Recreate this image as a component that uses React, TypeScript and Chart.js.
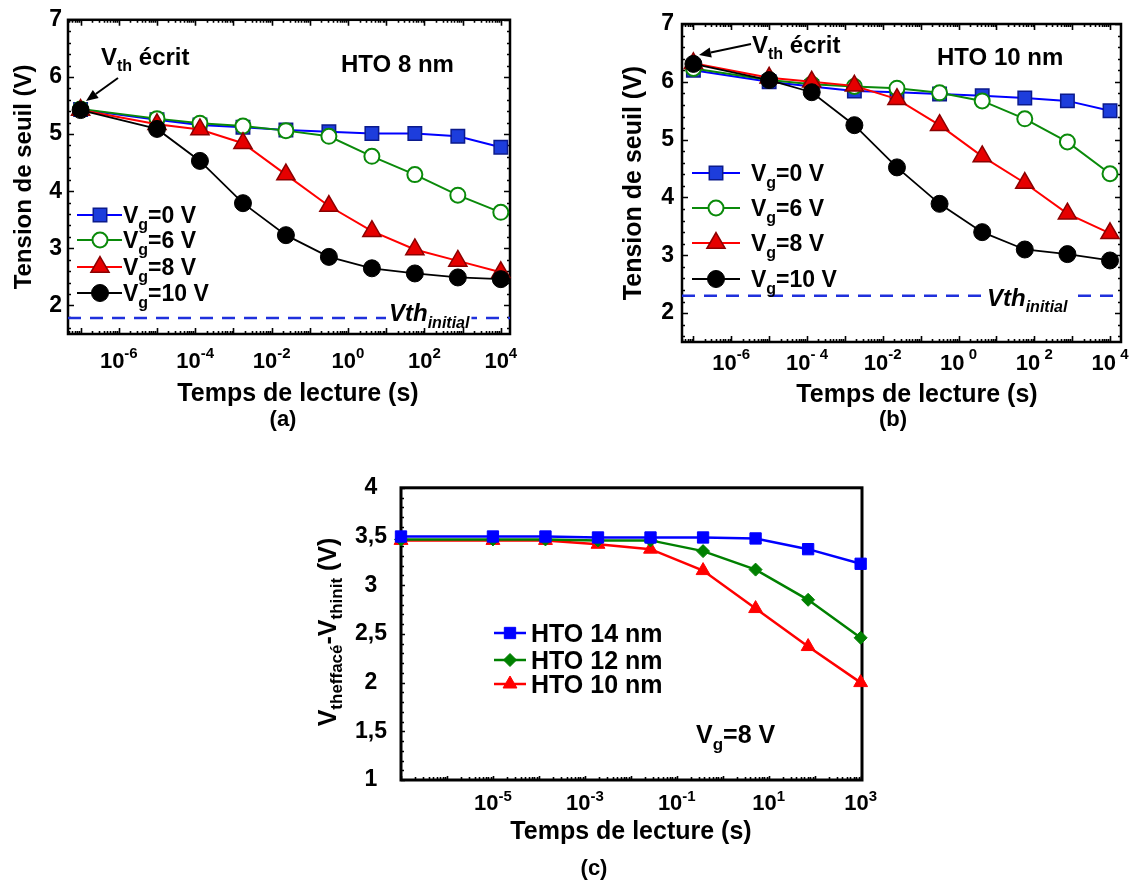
import React, { useEffect, useRef } from "react";
import { Chart, registerables } from "chart.js";
import { drawPoint } from "chart.js/helpers";

Chart.register(...registerables);

const FONT = "'Liberation Sans', Arial, Helvetica, sans-serif";

// ---------------- Data: panels (a) and (b) ----------------
const readTimesAB = [1e-7, 1e-5, 1.33e-4, 1.78e-3, 2.37e-2, 0.316, 4.22, 56.2, 750, 1e4];

const vthA_Vg0 = [5.43, 5.25, 5.16, 5.12, 5.07, 5.04, 5.01, 5.01, 4.96, 4.77];
const vthA_Vg6 = [5.44, 5.27, 5.19, 5.14, 5.06, 4.96, 4.61, 4.29, 3.93, 3.63];
const vthA_Vg8 = [5.42, 5.17, 5.08, 4.84, 4.29, 3.74, 3.3, 2.98, 2.78, 2.58];
const vthA_Vg10 = [5.42, 5.09, 4.53, 3.79, 3.23, 2.85, 2.65, 2.56, 2.49, 2.46];
const vthInitialA = 1.78;

const vthB_Vg0 = [6.2, 6.0, 5.92, 5.84, 5.82, 5.79, 5.76, 5.72, 5.67, 5.5];
const vthB_Vg6 = [6.23, 6.03, 5.96, 5.92, 5.89, 5.81, 5.67, 5.36, 4.96, 4.41];
const vthB_Vg8 = [6.32, 6.07, 6.0, 5.93, 5.7, 5.25, 4.71, 4.25, 3.72, 3.38];
const vthB_Vg10 = [6.31, 6.03, 5.82, 5.25, 4.52, 3.89, 3.4, 3.1, 3.02, 2.91];
const vthInitialB = 2.3;

// ---------------- Data: panel (c) ----------------
const readTimesC = [1e-7, 1e-5, 1.39e-4, 1.93e-3, 2.68e-2, 0.373, 5.18, 72, 1e3];
const deltaC_HTO14 = [3.5, 3.5, 3.5, 3.49, 3.49, 3.49, 3.48, 3.37, 3.22];
const deltaC_HTO12 = [3.47, 3.47, 3.47, 3.46, 3.46, 3.35, 3.16, 2.85, 2.46];
const deltaC_HTO10 = [3.46, 3.46, 3.46, 3.42, 3.37, 3.15, 2.76, 2.37, 2.0];

// ---------------- Ticks / labels ----------------
const xTickValsAB = [1e-6, 1e-4, 1e-2, 1, 1e2, 1e4];
const xTickExpA = ["-6", "-4", "-2", "0", "2", "4"];
const xTickExpB = ["-6", "- 4", "-2", " 0", " 2", " 4"];
const xTickValsC = [1e-5, 1e-3, 1e-1, 10, 1e3];
const xTickExpC = ["-5", "-3", "-1", "1", "3"];
const yTickValsAB = [2, 3, 4, 5, 6, 7];
const yTickLabelsAB = ["2", "3", "4", "5", "6", "7"];
const yTickValsC = [1, 1.5, 2, 2.5, 3, 3.5, 4];
const yTickLabelsC = ["1", "1,5", "2", "2,5", "3", "3,5", "4"];

const legendVg = ["=0 V", "=6 V", "=8 V", "=10 V"];
const legendC = ["HTO 14 nm", "HTO 12 nm", "HTO 10 nm"];
const xTitleText = "Temps de lecture (s)";
const yTitleAB = "Tension de seuil (V)";

// ---------------- helpers ----------------
type Seg = { t: string; size: number; dy?: number; italic?: boolean };
const fontOf = (s: Seg) => `${s.italic ? "italic " : ""}bold ${s.size}px ${FONT}`;

function drawRich(ctx: CanvasRenderingContext2D, segs: Seg[], x: number, y: number, align: "left" | "center" = "left", color = "#000") {
  ctx.save();
  ctx.fillStyle = color;
  ctx.textAlign = "left";
  ctx.textBaseline = "alphabetic";
  let total = 0;
  for (const s of segs) {
    ctx.font = fontOf(s);
    total += ctx.measureText(s.t).width;
  }
  let cx = align === "center" ? x - total / 2 : x;
  for (const s of segs) {
    ctx.font = fontOf(s);
    ctx.fillText(s.t, cx, y + (s.dy || 0));
    cx += ctx.measureText(s.t).width;
  }
  ctx.restore();
  return total;
}

function drawArrow(ctx: CanvasRenderingContext2D, x1: number, y1: number, x2: number, y2: number) {
  const head = 12, half = 5;
  ctx.save();
  ctx.strokeStyle = "#000";
  ctx.fillStyle = "#000";
  ctx.lineWidth = 2;
  const ang = Math.atan2(y2 - y1, x2 - x1);
  const bx = x2 - head * Math.cos(ang), by = y2 - head * Math.sin(ang);
  ctx.beginPath();
  ctx.moveTo(x1, y1);
  ctx.lineTo(bx, by);
  ctx.stroke();
  ctx.beginPath();
  ctx.moveTo(x2, y2);
  ctx.lineTo(bx + half * Math.sin(ang), by - half * Math.cos(ang));
  ctx.lineTo(bx - half * Math.sin(ang), by + half * Math.cos(ang));
  ctx.closePath();
  ctx.fill();
  ctx.restore();
}

function drawLegendItem(ctx: CanvasRenderingContext2D, ds: any, x0: number, x1: number, xm: number, y: number, lw: number) {
  ctx.save();
  ctx.strokeStyle = ds.borderColor;
  ctx.lineWidth = lw;
  ctx.beginPath();
  ctx.moveTo(x0, y);
  ctx.lineTo(x1, y);
  ctx.stroke();
  ctx.fillStyle = ds.pointBackgroundColor;
  ctx.strokeStyle = ds.pointBorderColor;
  ctx.lineWidth = ds.pointBorderWidth;
  drawPoint(ctx, { pointStyle: ds.pointStyle, radius: ds.pointRadius, rotation: 0, borderWidth: ds.pointBorderWidth } as any, xm, y);
  ctx.restore();
}

function drawVthInitial(chart: any, value: number, x: number, baseOff: number, subOff: number) {
  const ctx = chart.ctx as CanvasRenderingContext2D;
  const y = chart.scales.y.getPixelForValue(value);
  ctx.save();
  ctx.font = fontOf({ t: "", size: 24, italic: true });
  const w1 = ctx.measureText("Vth").width;
  ctx.font = fontOf({ t: "", size: 16, italic: true });
  const w2 = ctx.measureText("initial").width;
  ctx.fillStyle = "#fff";
  ctx.fillRect(x - 3, y - 3, w1 + w2 + 5, 6);
  ctx.restore();
  drawRich(ctx, [
    { t: "Vth", size: 24, italic: true, dy: baseOff },
    { t: "initial", size: 16, italic: true, dy: baseOff + subOff },
  ], x, y);
}

// ---------------- panel spec ----------------
interface PanelSpec {
  width: number;
  height: number;
  padding: { left: number; right: number; top: number; bottom: number };
  xMin: number; xMax: number; yMin: number; yMax: number;
  xTickValues: number[]; xTickExps: string[];
  xLabelBaseline: number; expRaise: number;
  yTickValues: number[]; yTickLabels: string[];
  yCrossAlign: "near" | "center";
  xTitleX: number; xTitleBaseline: number;
  yTitle: string | null;
  yAxisWidth: number; xAxisHeight: number;
  yTickPad: number; yTitlePad: number;
  tickSize: number; titleSize: number; yTitleSize: number;
  yMinor: number; yMajor: number; allSides: boolean;
  frameWidth: number; majorLen: number; minorLen: number;
  datasets: any[];
  decorate: (chart: any) => void;
}

function drawFrame(chart: any, s: PanelSpec) {
  const ctx = chart.ctx as CanvasRenderingContext2D;
  const a = chart.chartArea;
  const xs = chart.scales.x, ys = chart.scales.y;
  ctx.save();
  ctx.strokeStyle = "#000";
  ctx.lineWidth = 1.6;
  ctx.beginPath();
  const e0 = Math.floor(Math.log10(xs.min)), e1 = Math.ceil(Math.log10(xs.max));
  for (let e = e0; e <= e1; e++) {
    for (let m = 1; m < 10; m++) {
      const v = m * Math.pow(10, e);
      if (v < xs.min || v > xs.max) continue;
      const px = Math.round(xs.getPixelForValue(v)) + 0.5;
      const len = m === 1 ? s.majorLen : s.minorLen;
      ctx.moveTo(px, a.bottom);
      ctx.lineTo(px, a.bottom - len);
      if (s.allSides) {
        ctx.moveTo(px, a.top);
        ctx.lineTo(px, a.top + len);
      }
    }
  }
  const k0 = Math.ceil(s.yMin / s.yMinor - 1e-9), k1 = Math.floor(s.yMax / s.yMinor + 1e-9);
  for (let k = k0; k <= k1; k++) {
    const v = k * s.yMinor;
    const r = v / s.yMajor;
    const major = Math.abs(r - Math.round(r)) < 1e-6;
    const len = major ? s.majorLen : s.minorLen;
    const py = Math.round(ys.getPixelForValue(v)) + 0.5;
    ctx.moveTo(a.left, py);
    ctx.lineTo(a.left + len, py);
    if (s.allSides) {
      ctx.moveTo(a.right, py);
      ctx.lineTo(a.right - len, py);
    }
  }
  ctx.stroke();
  ctx.lineWidth = s.frameWidth;
  ctx.strokeRect(a.left, a.top, a.right - a.left, a.bottom - a.top);
  ctx.restore();
}

// x tick labels "10" with a raised exponent, and the x-axis title
function drawXAxisText(chart: any, s: PanelSpec) {
  const ctx = chart.ctx as CanvasRenderingContext2D;
  const xs = chart.scales.x;
  ctx.save();
  ctx.fillStyle = "#000";
  ctx.textBaseline = "alphabetic";
  ctx.textAlign = "left";
  const baseFont = `bold ${s.tickSize}px ${FONT}`;
  const expFont = `bold ${Math.round(s.tickSize * 0.68)}px ${FONT}`;
  s.xTickValues.forEach((v, i) => {
    const px = xs.getPixelForValue(v);
    ctx.font = baseFont;
    const wb = ctx.measureText("10").width;
    ctx.font = expFont;
    const we = ctx.measureText(s.xTickExps[i]).width;
    const x0 = px - (wb + we) / 2;
    ctx.font = baseFont;
    ctx.fillText("10", x0, s.xLabelBaseline);
    ctx.font = expFont;
    ctx.fillText(s.xTickExps[i], x0 + wb, s.xLabelBaseline - s.expRaise);
  });
  ctx.font = `bold ${s.titleSize}px ${FONT}`;
  ctx.textAlign = "center";
  ctx.fillText(xTitleText, s.xTitleX, s.xTitleBaseline);
  ctx.restore();
}

function buildConfig(s: PanelSpec): any {
  const framePlugin = {
    id: "frameAndDecor",
    beforeDatasetsDraw(chart: any) { drawFrame(chart, s); },
    afterDatasetsDraw(chart: any) { drawXAxisText(chart, s); s.decorate(chart); },
  };
  const tickFont = { family: FONT, size: s.tickSize + 1, weight: "bold" as const };
  const titleFont = { family: FONT, size: s.yTitleSize, weight: "bold" as const };
  return {
    type: "line",
    data: { datasets: s.datasets },
    options: {
      responsive: false,
      animation: false,
      devicePixelRatio: 1,
      events: [],
      layout: { padding: s.padding },
      plugins: { legend: { display: false }, tooltip: { enabled: false } },
      scales: {
        x: {
          type: "logarithmic",
          position: "bottom",
          min: s.xMin,
          max: s.xMax,
          afterBuildTicks: (sc: any) => { sc.ticks = s.xTickValues.map((v) => ({ value: v })); },
          afterFit: (sc: any) => { sc.height = s.xAxisHeight; },
          grid: { display: false, drawTicks: false },
          border: { display: false },
          ticks: { display: false },
          title: { display: false },
        },
        y: {
          type: "linear",
          min: s.yMin,
          max: s.yMax,
          afterBuildTicks: (sc: any) => { sc.ticks = s.yTickValues.map((v) => ({ value: v })); },
          afterFit: (sc: any) => { sc.width = s.yAxisWidth; },
          grid: { display: false, drawTicks: false },
          border: { display: false },
          ticks: {
            autoSkip: false, color: "#000", font: tickFont, padding: s.yTickPad, crossAlign: s.yCrossAlign,
            callback: (v: any) => {
              const i = s.yTickValues.findIndex((t) => Math.abs(t - Number(v)) < 1e-6);
              return i >= 0 ? s.yTickLabels[i] : "";
            },
          },
          title: s.yTitle
            ? { display: true, text: s.yTitle, color: "#000", font: titleFont, padding: { top: s.yTitlePad, bottom: 0 } }
            : { display: false },
        },
      },
    },
    plugins: [framePlugin],
  };
}

const pts = (xs: number[], ys: number[]) => xs.map((x, i) => ({ x, y: ys[i] }));

const styleAB = {
  blue: { borderColor: "#0000ff", borderWidth: 2, pointStyle: "rect", pointRadius: 9.5, pointBackgroundColor: "#1d3ddc", pointBorderColor: "#0b1a8c", pointBorderWidth: 1.5 },
  green: { borderColor: "#0a8a0a", borderWidth: 2, pointStyle: "circle", pointRadius: 7.5, pointBackgroundColor: "#ffffff", pointBorderColor: "#0a8a0a", pointBorderWidth: 2 },
  red: { borderColor: "#ff0000", borderWidth: 2, pointStyle: "triangle", pointRadius: 10.5, pointBackgroundColor: "#e60000", pointBorderColor: "#8b0000", pointBorderWidth: 1.5 },
  black: { borderColor: "#000000", borderWidth: 1.8, pointStyle: "circle", pointRadius: 8.5, pointBackgroundColor: "#000000", pointBorderColor: "#000000", pointBorderWidth: 1 },
};

function abDatasets(v0: number[], v6: number[], v8: number[], v10: number[], vthInit: number, xMin: number, xMax: number) {
  const common = { tension: 0, clip: false, pointHoverRadius: 0 };
  return [
    { label: "Vg=0 V", data: pts(readTimesAB, v0), ...styleAB.blue, ...common, order: 4 },
    { label: "Vg=6 V", data: pts(readTimesAB, v6), ...styleAB.green, ...common, order: 3 },
    { label: "Vg=8 V", data: pts(readTimesAB, v8), ...styleAB.red, ...common, order: 2 },
    { label: "Vg=10 V", data: pts(readTimesAB, v10), ...styleAB.black, ...common, order: 1 },
    {
      label: "Vth initial", data: [{ x: xMin, y: vthInit }, { x: xMax, y: vthInit }],
      borderColor: "#1f30dc", borderWidth: 2.5, borderDash: [13, 9], pointRadius: 0, clip: false, order: 5,
    },
  ];
}

function drawABLegend(chart: any, x0: number, x1: number, xm: number, xt: number, ys: number[]) {
  const ctx = chart.ctx as CanvasRenderingContext2D;
  for (let i = 0; i < 4; i++) {
    drawLegendItem(ctx, chart.data.datasets[i], x0, x1, xm, ys[i], 2);
    drawRich(ctx, [
      { t: "V", size: 23 },
      { t: "g", size: 16, dy: 7 },
      { t: legendVg[i], size: 23 },
    ], xt, ys[i] + 8);
  }
}

const xMinA = 4.68e-8, xMaxA = 1.74e4;
const specA: PanelSpec = {
  width: 560, height: 450,
  padding: { left: 0, right: 50, top: 19, bottom: 0 },
  xMin: xMinA, xMax: xMaxA, yMin: 1.5, yMax: 7,
  xTickValues: xTickValsAB, xTickExps: xTickExpA,
  xLabelBaseline: 368, expRaise: 10,
  yTickValues: yTickValsAB, yTickLabels: yTickLabelsAB, yCrossAlign: "near",
  xTitleX: 298, xTitleBaseline: 401,
  yTitle: yTitleAB,
  yAxisWidth: 68, xAxisHeight: 116,
  yTickPad: 6, yTitlePad: 10,
  tickSize: 22, titleSize: 25, yTitleSize: 24,
  yMinor: 0.2, yMajor: 1, allSides: true,
  frameWidth: 2.5, majorLen: 6, minorLen: 3,
  datasets: abDatasets(vthA_Vg0, vthA_Vg6, vthA_Vg8, vthA_Vg10, vthInitialA, xMinA, xMaxA),
  decorate: (chart: any) => {
    const ctx = chart.ctx as CanvasRenderingContext2D;
    drawVthInitial(chart, vthInitialA, 389, 3, 7);
    drawRich(ctx, [{ t: "V", size: 24 }, { t: "th", size: 16, dy: 6 }, { t: " écrit", size: 24 }], 101, 65);
    drawArrow(ctx, 118, 78, 86, 101);
    drawRich(ctx, [{ t: "HTO 8 nm", size: 24 }], 341, 72);
    drawABLegend(chart, 77, 122, 100, 123, [215, 240, 267, 293]);
  },
};

const xMinB = 5.0e-8, xMaxB = 1.95e4;
const specB: PanelSpec = {
  width: 536, height: 450,
  padding: { left: 0, right: 15, top: 24, bottom: 0 },
  xMin: xMinB, xMax: xMaxB, yMin: 1.5, yMax: 7,
  xTickValues: xTickValsAB, xTickExps: xTickExpB,
  xLabelBaseline: 370, expRaise: 11,
  yTickValues: yTickValsAB, yTickLabels: yTickLabelsAB, yCrossAlign: "near",
  xTitleX: 317, xTitleBaseline: 402,
  yTitle: yTitleAB,
  yAxisWidth: 82, xAxisHeight: 108,
  yTickPad: 8, yTitlePad: 19,
  tickSize: 22, titleSize: 25, yTitleSize: 25,
  yMinor: 0.2, yMajor: 1, allSides: true,
  frameWidth: 2.5, majorLen: 6, minorLen: 3,
  datasets: abDatasets(vthB_Vg0, vthB_Vg6, vthB_Vg8, vthB_Vg10, vthInitialB, xMinB, xMaxB),
  decorate: (chart: any) => {
    const ctx = chart.ctx as CanvasRenderingContext2D;
    drawVthInitial(chart, vthInitialB, 387, 10, 6);
    drawRich(ctx, [{ t: "V", size: 24 }, { t: "th", size: 16, dy: 6 }, { t: " écrit", size: 24 }], 152, 53);
    drawArrow(ctx, 151, 44, 99, 55);
    drawRich(ctx, [{ t: "HTO 10 nm", size: 24 }], 337, 65);
    drawABLegend(chart, 92, 140, 116, 151, [173, 208, 243, 279]);
  },
};

const styleC = {
  blue: { borderColor: "#0000ff", borderWidth: 2.5, pointStyle: "rect", pointRadius: 8, pointBackgroundColor: "#0000ff", pointBorderColor: "#0000ff", pointBorderWidth: 1 },
  green: { borderColor: "#008000", borderWidth: 2.5, pointStyle: "rectRot", pointRadius: 6.5, pointBackgroundColor: "#008000", pointBorderColor: "#008000", pointBorderWidth: 1 },
  red: { borderColor: "#ff0000", borderWidth: 2.5, pointStyle: "triangle", pointRadius: 8, pointBackgroundColor: "#ff0000", pointBorderColor: "#ff0000", pointBorderWidth: 1 },
};

const specC: PanelSpec = {
  width: 600, height: 430,
  padding: { left: 0, right: 38, top: 12, bottom: 0 },
  xMin: 1e-7, xMax: 1.07e3, yMin: 1, yMax: 4,
  xTickValues: xTickValsC, xTickExps: xTickExpC,
  xLabelBaseline: 350, expRaise: 9,
  yTickValues: yTickValsC, yTickLabels: yTickLabelsC, yCrossAlign: "center",
  xTitleX: 331, xTitleBaseline: 379,
  yTitle: null,
  yAxisWidth: 101, xAxisHeight: 110,
  yTickPad: 14, yTitlePad: 0,
  tickSize: 22, titleSize: 25, yTitleSize: 25,
  yMinor: 0.1, yMajor: 0.5, allSides: false,
  frameWidth: 3, majorLen: 4, minorLen: 3,
  datasets: [
    { label: "HTO 14 nm", data: pts(readTimesC, deltaC_HTO14), ...styleC.blue, tension: 0, clip: false, order: 1 },
    { label: "HTO 12 nm", data: pts(readTimesC, deltaC_HTO12), ...styleC.green, tension: 0, clip: false, order: 2 },
    { label: "HTO 10 nm", data: pts(readTimesC, deltaC_HTO10), ...styleC.red, tension: 0, clip: false, order: 3 },
  ],
  decorate: (chart: any) => {
    const ctx = chart.ctx as CanvasRenderingContext2D;
    const ly = [173, 200, 224];
    for (let i = 0; i < 3; i++) {
      drawLegendItem(ctx, chart.data.datasets[i], 194, 226, 210, ly[i], 2.5);
      drawRich(ctx, [{ t: legendC[i], size: 25 }], 231, ly[i] + 9);
    }
    drawRich(ctx, [{ t: "V", size: 25 }, { t: "g", size: 17, dy: 7 }, { t: "=8 V", size: 25 }], 396, 283);
    // rotated y-axis title
    ctx.save();
    ctx.translate(36, 172);
    ctx.rotate(-Math.PI / 2);
    drawRich(ctx, [
      { t: "V", size: 25 },
      { t: "theffacé", size: 17, dy: 6 },
      { t: "-V", size: 25 },
      { t: "thinit", size: 17, dy: 6 },
      { t: " (V)", size: 25 },
    ], 0, 0, "center");
    ctx.restore();
  },
};

const Panel = ({ spec, left, top }: { spec: PanelSpec; left: number; top: number }) => {
  const ref = useRef<HTMLCanvasElement | null>(null);
  useEffect(() => {
    if (!ref.current) return;
    const chart = new Chart(ref.current, buildConfig(spec));
    return () => chart.destroy();
  }, [spec]);
  return (
    <div style={{ position: "absolute", left, top, width: spec.width, height: spec.height }}>
      <canvas ref={ref} width={spec.width} height={spec.height} style={{ width: spec.width, height: spec.height, display: "block" }} />
    </div>
  );
};

const Caption = ({ text, x, y }: { text: string; x: number; y: number }) => (
  <div style={{ position: "absolute", left: x, top: y, transform: "translate(-50%, -50%)", font: `bold 22px ${FONT}`, color: "#000", whiteSpace: "nowrap" }}>
    {text}
  </div>
);

export default function App() {
  return (
    <div style={{ position: "absolute", left: 0, top: 0, width: 1136, height: 890, background: "#fff", overflow: "hidden" }}>
      <Panel spec={specA} left={0} top={0} />
      <Panel spec={specB} left={600} top={0} />
      <Panel spec={specC} left={300} top={460} />
      <Caption text="(a)" x={283} y={419} />
      <Caption text="(b)" x={893} y={419} />
      <Caption text="(c)" x={594} y={868} />
    </div>
  );
}
